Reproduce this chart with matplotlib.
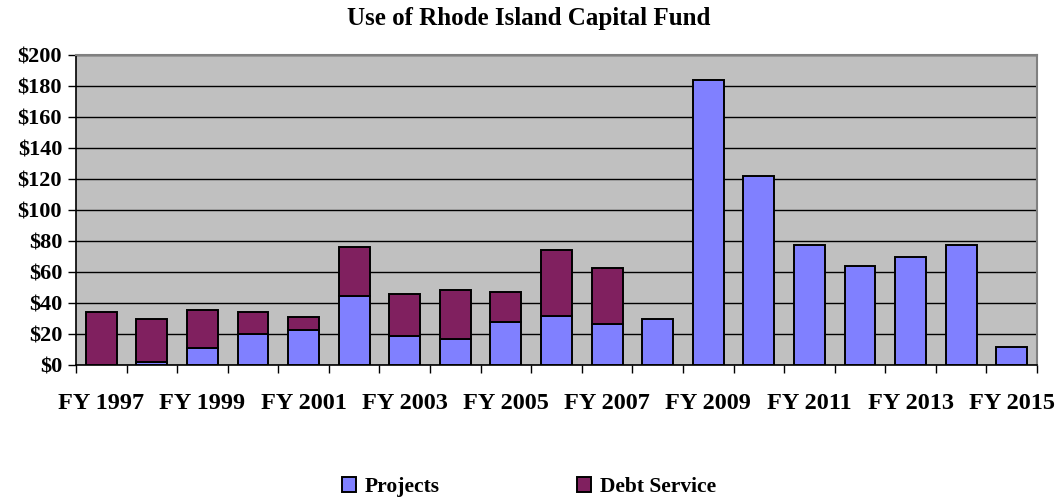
import numpy as np
import matplotlib.pyplot as plt
from matplotlib.ticker import FixedLocator, FuncFormatter

# donnees (millions $)
annees = ['FY 1997', 'FY 1998', 'FY 1999', 'FY 2000', 'FY 2001', 'FY 2002', 'FY 2003',
          'FY 2004', 'FY 2005', 'FY 2006', 'FY 2007', 'FY 2008', 'FY 2009', 'FY 2010',
          'FY 2011', 'FY 2012', 'FY 2013', 'FY 2014', 'FY 2015']
projets = [0.0, 2.2, 11.2, 20.2, 22.8, 44.5, 18.9, 16.6, 27.7, 31.8, 26.5, 29.5,
           183.9, 122.2, 77.6, 63.7, 69.9, 77.6, 11.4]
dette = [34.4, 27.3, 24.3, 14.2, 8.0, 31.8, 26.9, 31.8, 19.4, 42.2, 35.9, 0, 0, 0,
         0, 0, 0, 0, 0]
y_ticks = [0, 20, 40, 60, 80, 100, 120, 140, 160, 180, 200]

plt.rcParams['font.family'] = ['Liberation Serif', 'DejaVu Serif']
plt.rcParams['font.weight'] = 'bold'

col_proj = '#8080FF'
col_dette = '#80205F'

fig = plt.figure(figsize=(10.58, 4.97), dpi=100)
ax = fig.add_axes([76 / 1058, 1 - 365 / 497, (1037 - 76) / 1058, 310 / 497])
ax.set_facecolor('#C0C0C0')

x = np.arange(len(annees))
proj = np.array(projets)
det = np.array(dette)
ax.bar(x, proj, width=0.61, color=col_proj, edgecolor='black', linewidth=1.4,
       label='Projects', zorder=3)
# pas de segment de dette quand la valeur est nulle
m = det > 0
ax.bar(x[m], det[m], bottom=proj[m], width=0.61, color=col_dette, edgecolor='black',
       linewidth=1.4, label='Debt Service', zorder=3)

ax.set_xlim(-0.5, len(annees) - 0.5)
ax.set_ylim(0, 200)
ax.yaxis.set_major_locator(FixedLocator(y_ticks))
ax.yaxis.set_major_formatter(FuncFormatter(lambda v, p: '$%d' % v))
ax.grid(axis='y', color='black', linewidth=1, zorder=1)

# graduations x aux limites des categories, etiquettes une sur deux
ax.set_xticks(np.arange(-0.5, len(annees), 1.0))
ax.set_xticklabels([])
ax.set_xticks(x[::2], minor=True)
ax.set_xticklabels(annees[::2], minor=True)
ax.tick_params(axis='x', which='major', length=6, width=1, direction='out')
ax.tick_params(axis='x', which='minor', length=0, pad=20, labelsize=17.5)
ax.tick_params(axis='y', length=6, width=1, labelsize=16, pad=4)

for s in ['left', 'bottom']:
    ax.spines[s].set_color('black')
    ax.spines[s].set_linewidth(1.2)
for s in ['top', 'right']:
    ax.spines[s].set_color('#808080')
    ax.spines[s].set_linewidth(1.5)

fig.text(0.5, 1 - 18 / 497, 'Use of Rhode Island Capital Fund', ha='center',
         va='center', fontsize=18, fontweight='bold')

fig.legend(loc='center', bbox_to_anchor=(0.5, 1 - 487 / 497), ncol=2, frameon=False,
           fontsize=15.5, handlelength=0.65, handleheight=0.65, handletextpad=0.42,
           columnspacing=6.4)

fig.savefig('out.png', dpi=100)
